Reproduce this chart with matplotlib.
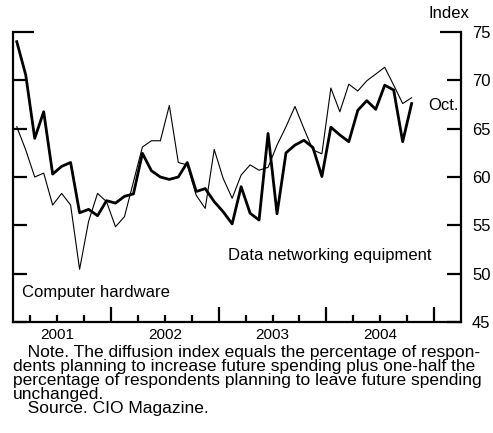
import numpy as np
import matplotlib
matplotlib.use('Agg')
import matplotlib.pyplot as plt

plt.rcParams['font.family'] = ['Liberation Sans', 'DejaVu Sans']

# Datos mensuales, feb 2001 - oct 2004 (meses desde ene 2001, a mitad de mes)
meses = np.arange(45) + 1.5

redes = [74.0, 70.55, 64.0, 66.75, 60.3, 61.1, 61.5, 56.3, 56.65, 56.0,
         57.55, 57.3, 58.0, 58.25, 62.45, 60.65, 60.0, 59.75, 60.0, 61.5,
         58.5, 58.8, 57.45, 56.4, 55.15, 59.0, 56.25, 55.55, 64.5, 56.2,
         62.5, 63.3, 63.8, 63.05, 60.05, 65.15, 64.35, 63.65, 66.9, 67.9,
         67.0, 69.5, 69.0, 63.65, 67.6]

hardware = [65.2, 62.8, 60.0, 60.4, 57.1, 58.3, 57.1, 50.45, 55.4, 58.3,
            57.45, 54.85, 55.9, 59.5, 63.1, 63.75, 63.75, 67.4, 61.5, 61.25,
            58.1, 56.75, 62.85, 59.85, 57.8, 60.2, 61.25, 60.7, 61.0, 63.3,
            65.2, 67.3, 65.0, 62.8, 62.4, 69.2, 66.75, 69.6, 68.9, 69.95,
            70.65, 71.35, 69.5, 67.6, 68.2]

anios = ['2001', '2002', '2003', '2004']
pos_anios = [6, 18, 30, 42]

fig = plt.figure(figsize=(4.93, 4.33), dpi=100)
ax = fig.add_axes([13 / 493, 1 - 322 / 433, 448 / 493, 290 / 433])

ax.plot(meses, hardware, color='black', linewidth=0.8)
ax.plot(meses, redes, color='black', linewidth=2.0)

ax.set_xlim(1.08, 51.0)
ax.set_ylim(45, 75)

for lado in ['left', 'right', 'bottom']:
    ax.spines[lado].set_linewidth(1.6)
ax.spines['top'].set_visible(False)

# eje y a la derecha, marcas hacia dentro en ambos lados
ax.yaxis.tick_right()
ax.set_yticks([75])
ax.set_yticks([45, 50, 55, 60, 65, 70], minor=True)
ax.set_yticklabels(['75'], fontsize=12)
ax.set_yticklabels(['45', '50', '55', '60', '65', '70'], minor=True, fontsize=12)
ax.tick_params(axis='y', which='both', direction='in', left=True, right=True,
               labelleft=False, labelright=True, width=1.6, pad=8)
ax.tick_params(axis='y', which='major', length=15)
ax.tick_params(axis='y', which='minor', length=10)

# eje x: años y trimestres
ax.set_xticks([12, 24, 36, 48])
ax.set_xticklabels([])
trimestres = [m for m in range(3, 51, 3) if m % 12 != 0]
ax.set_xticks(trimestres, minor=True)
ax.set_xticklabels([anios[pos_anios.index(m)] if m in pos_anios else ''
                    for m in trimestres], minor=True, fontsize=11)
ax.tick_params(axis='x', which='both', direction='in', width=1.6, pad=4)
ax.tick_params(axis='x', which='major', length=11)
ax.tick_params(axis='x', which='minor', length=5)

ax.text(2.08, 48.0, 'Computer hardware', fontsize=12, va='center')
ax.text(25.05, 51.9, 'Data networking equipment', fontsize=12, va='center')
ax.text(47.3, 67.35, 'Oct.', fontsize=12, va='center')
fig.text(428 / 493, 1 - 14 / 433, 'Index', fontsize=12, va='center')

nota = ('   Note. The diffusion index equals the percentage of respon-\n'
        'dents planning to increase future spending plus one-half the\n'
        'percentage of respondents planning to leave future spending\n'
        'unchanged.\n'
        '   Source. CIO Magazine.')
fig.text(13 / 493, 1 - 345 / 433, nota, fontsize=12.5, va='top', linespacing=0.92)

fig.savefig('out.png', dpi=100)
